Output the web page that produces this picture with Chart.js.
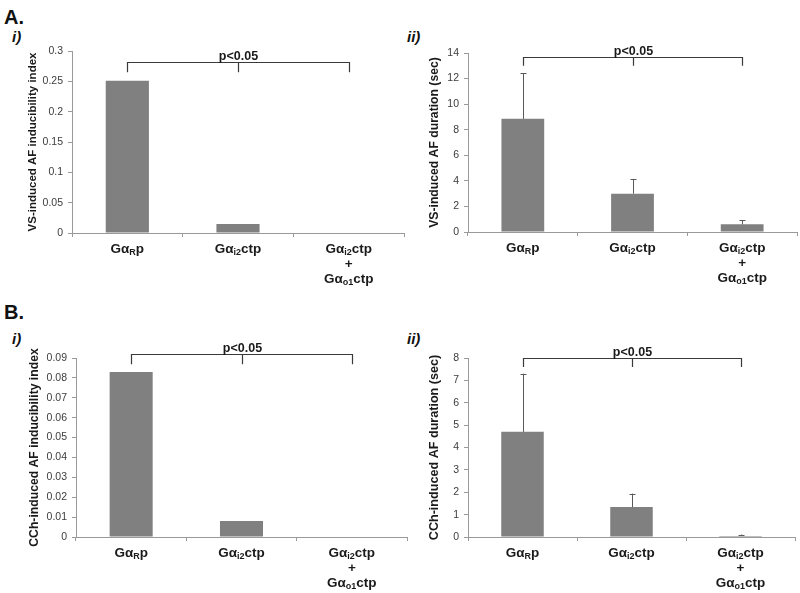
<!DOCTYPE html>
<html>
<head>
<meta charset="utf-8">
<script src="https://cdn.jsdelivr.net/npm/chart.js@4.4.1/dist/chart.umd.min.js"></script>
<style>
  body { margin: 0; background: #fff; }
  #wrap { position: relative; width: 800px; height: 593px; overflow: hidden; font-family: Arial, "Liberation Sans", sans-serif; }
  canvas { position: absolute; }
  .tag { position: absolute; font-weight: bold; color: #111; line-height: 1; }
  .big { font-size: 20px; }
  .sub { font-size: 15px; font-style: italic; }
</style>
</head>
<body>
<div id="wrap">
  <div class="tag big" style="left:4px;top:7px">A.</div>
  <div class="tag sub" style="left:12px;top:29px">i)</div>
  <div class="tag sub" style="left:407px;top:29px">ii)</div>
  <div class="tag big" style="left:4px;top:302px">B.</div>
  <div class="tag sub" style="left:12px;top:331px">i)</div>
  <div class="tag sub" style="left:407px;top:331px">ii)</div>
  <canvas id="ai" width="410" height="290" style="left:0;top:0"></canvas>
  <canvas id="aii" width="390" height="290" style="left:410px;top:0"></canvas>
  <canvas id="bi" width="410" height="303" style="left:0;top:290px"></canvas>
  <canvas id="bii" width="390" height="303" style="left:410px;top:290px"></canvas>
</div>
<script>
// groups on the x axis (_{..} = subscript, \n = new line)
const categories = ['Gα_{R}p', 'Gα_{i2}ctp', 'Gα_{i2}ctp\n+\nGα_{o1}ctp'];

// A: vagal stimulation
const vsIndex = [0.251, 0.015, 0];
const vsDuration = [8.85, 3.0, 0.6];
const vsDurationErr = [3.55, 1.15, 0.3];

// B: carbachol
const cchIndex = [0.083, 0.008, 0];
const cchDuration = [4.7, 1.34, 0.04];
const cchDurationErr = [2.6, 0.6, 0.07];

const sigLabel = 'p<0.05';

const barColor = '#808080';
const axisColor = '#9a9a9a';
const textColor = '#1a1a1a';
const fontFamily = 'Arial, "Liberation Sans", sans-serif';

// split a label into plain / subscript pieces
function pieces(str) {
    const out = [];
    str.split(/(_\{[^}]*\})/).forEach(p => {
        if (!p) return;
        if (p.startsWith('_{')) out.push({ t: p.slice(2, -1), sub: true });
        else out.push({ t: p, sub: false });
    });
    return out;
}

const decor = {
    id: 'decor',
    afterDatasetsDraw(chart, args, o) {
        const ctx = chart.ctx;
        const ys = chart.scales.y;
        const bars = chart.getDatasetMeta(0).data;
        const vals = chart.data.datasets[0].data;
        ctx.save();
        // error bars (upper only)
        if (o.err) {
            ctx.strokeStyle = '#5a5a5a';
            ctx.lineWidth = 1;
            bars.forEach((bar, i) => {
                const top = ys.getPixelForValue(vals[i] + o.err[i]);
                const x = Math.round(bar.x) + 0.5;
                ctx.beginPath();
                ctx.moveTo(x, bar.y);
                ctx.lineTo(x, top);
                ctx.moveTo(x - 3, Math.round(top) + 0.5);
                ctx.lineTo(x + 3, Math.round(top) + 0.5);
                ctx.stroke();
            });
        }
        // significance bracket
        const yTop = Math.round(ys.getPixelForValue(o.bracket[0])) + 0.5;
        const yBot = ys.getPixelForValue(o.bracket[1]);
        const xs = bars.map(b => Math.round(b.x) + 0.5);
        ctx.strokeStyle = '#3a3a3a';
        ctx.lineWidth = 1.2;
        ctx.beginPath();
        ctx.moveTo(xs[0], yBot);
        ctx.lineTo(xs[0], yTop);
        ctx.lineTo(xs[2], yTop);
        ctx.lineTo(xs[2], yBot);
        ctx.moveTo(xs[1], yTop);
        ctx.lineTo(xs[1], yBot);
        ctx.stroke();
        ctx.fillStyle = textColor;
        ctx.font = 'bold 12.5px ' + fontFamily;
        ctx.textAlign = 'center';
        ctx.textBaseline = 'alphabetic';
        ctx.fillText(sigLabel, xs[1], yTop - 3);
        ctx.restore();
    },
    afterDraw(chart) {
        // category labels with subscripts
        const ctx = chart.ctx;
        const xs = chart.scales.x;
        ctx.save();
        ctx.fillStyle = textColor;
        ctx.textBaseline = 'middle';
        ctx.textAlign = 'left';
        const main = 'bold 13.5px ' + fontFamily;
        const small = 'bold 9px ' + fontFamily;
        categories.forEach((cat, i) => {
            const cx = xs.getPixelForValue(i);
            cat.split('\n').forEach((line, k) => {
                const ps = pieces(line);
                let w = 0;
                ps.forEach(p => { ctx.font = p.sub ? small : main; p.w = ctx.measureText(p.t).width; w += p.w; });
                let x = cx - w / 2;
                const y = xs.top + 16 + k * 15;
                ps.forEach(p => {
                    ctx.font = p.sub ? small : main;
                    ctx.fillText(p.t, x, p.sub ? y + 3.5 : y);
                    x += p.w;
                });
            });
        });
        ctx.restore();
    }
};

function fmt(v) {
    return String(Number(v.toFixed(3)));
}

function panel(id, cfg) {
    const canvas = document.getElementById(id);
    const H = canvas.height;
    const padLeft = cfg.titleX - 4 - cfg.titleSize * 0.6;
    new Chart(canvas, {
        type: 'bar',
        data: {
            labels: categories.map(c => c.replace(/_\{|\}/g, '')),
            datasets: [{
                data: cfg.values,
                backgroundColor: barColor,
                borderWidth: 0,
                barPercentage: 0.39,
                categoryPercentage: 1
            }]
        },
        options: {
            responsive: false,
            animation: false,
            events: [],
            layout: { padding: { left: padLeft, top: cfg.top, right: cfg.padRight, bottom: 0 } },
            plugins: {
                legend: { display: false },
                tooltip: { enabled: false },
                decor: { err: cfg.err, bracket: cfg.bracket }
            },
            scales: {
                x: {
                    ticks: { display: false },
                    grid: { drawOnChartArea: false, color: axisColor, tickLength: 4 },
                    border: { color: axisColor },
                    afterFit: s => { s.height = H - cfg.bottom; }
                },
                y: {
                    min: 0,
                    max: cfg.max,
                    ticks: {
                        stepSize: cfg.step,
                        color: '#3c3c3c',
                        padding: 5,
                        font: { family: fontFamily, size: 10.5 },
                        callback: fmt
                    },
                    grid: { drawOnChartArea: false, color: axisColor, tickLength: 4 },
                    border: { color: axisColor },
                    title: {
                        display: true,
                        text: cfg.title,
                        color: textColor,
                        font: { family: fontFamily, size: cfg.titleSize, weight: 'bold' },
                        padding: { top: 4, bottom: 4 }
                    },
                    afterFit: s => { s.width = cfg.left - padLeft; }
                }
            }
        },
        plugins: [decor]
    });
}

panel('ai', {
    values: vsIndex, max: 0.3, step: 0.05,
    title: 'VS-induced AF inducibility index', titleSize: 11.5, titleX: 33,
    left: 72, padRight: 6, top: 51, bottom: 233,
    bracket: [0.282, 0.265]
});
panel('aii', {
    values: vsDuration, err: vsDurationErr, max: 14, step: 2,
    title: 'VS-induced AF duration (sec)', titleSize: 12.2, titleX: 25,
    left: 58, padRight: 3, top: 53, bottom: 232,
    bracket: [13.7, 13.0]
});
panel('bi', {
    values: cchIndex, max: 0.09, step: 0.01,
    title: 'CCh-induced AF inducibility index', titleSize: 12.2, titleX: 35,
    left: 76, padRight: 3, top: 68, bottom: 247,
    bracket: [0.0919, 0.0868]
});
panel('bii', {
    values: cchDuration, err: cchDurationErr, max: 8, step: 1,
    title: 'CCh-induced AF duration (sec)', titleSize: 12.6, titleX: 25,
    left: 58, padRight: 5, top: 68, bottom: 247,
    bracket: [8.0, 7.6]
});
</script>
</body>
</html>
